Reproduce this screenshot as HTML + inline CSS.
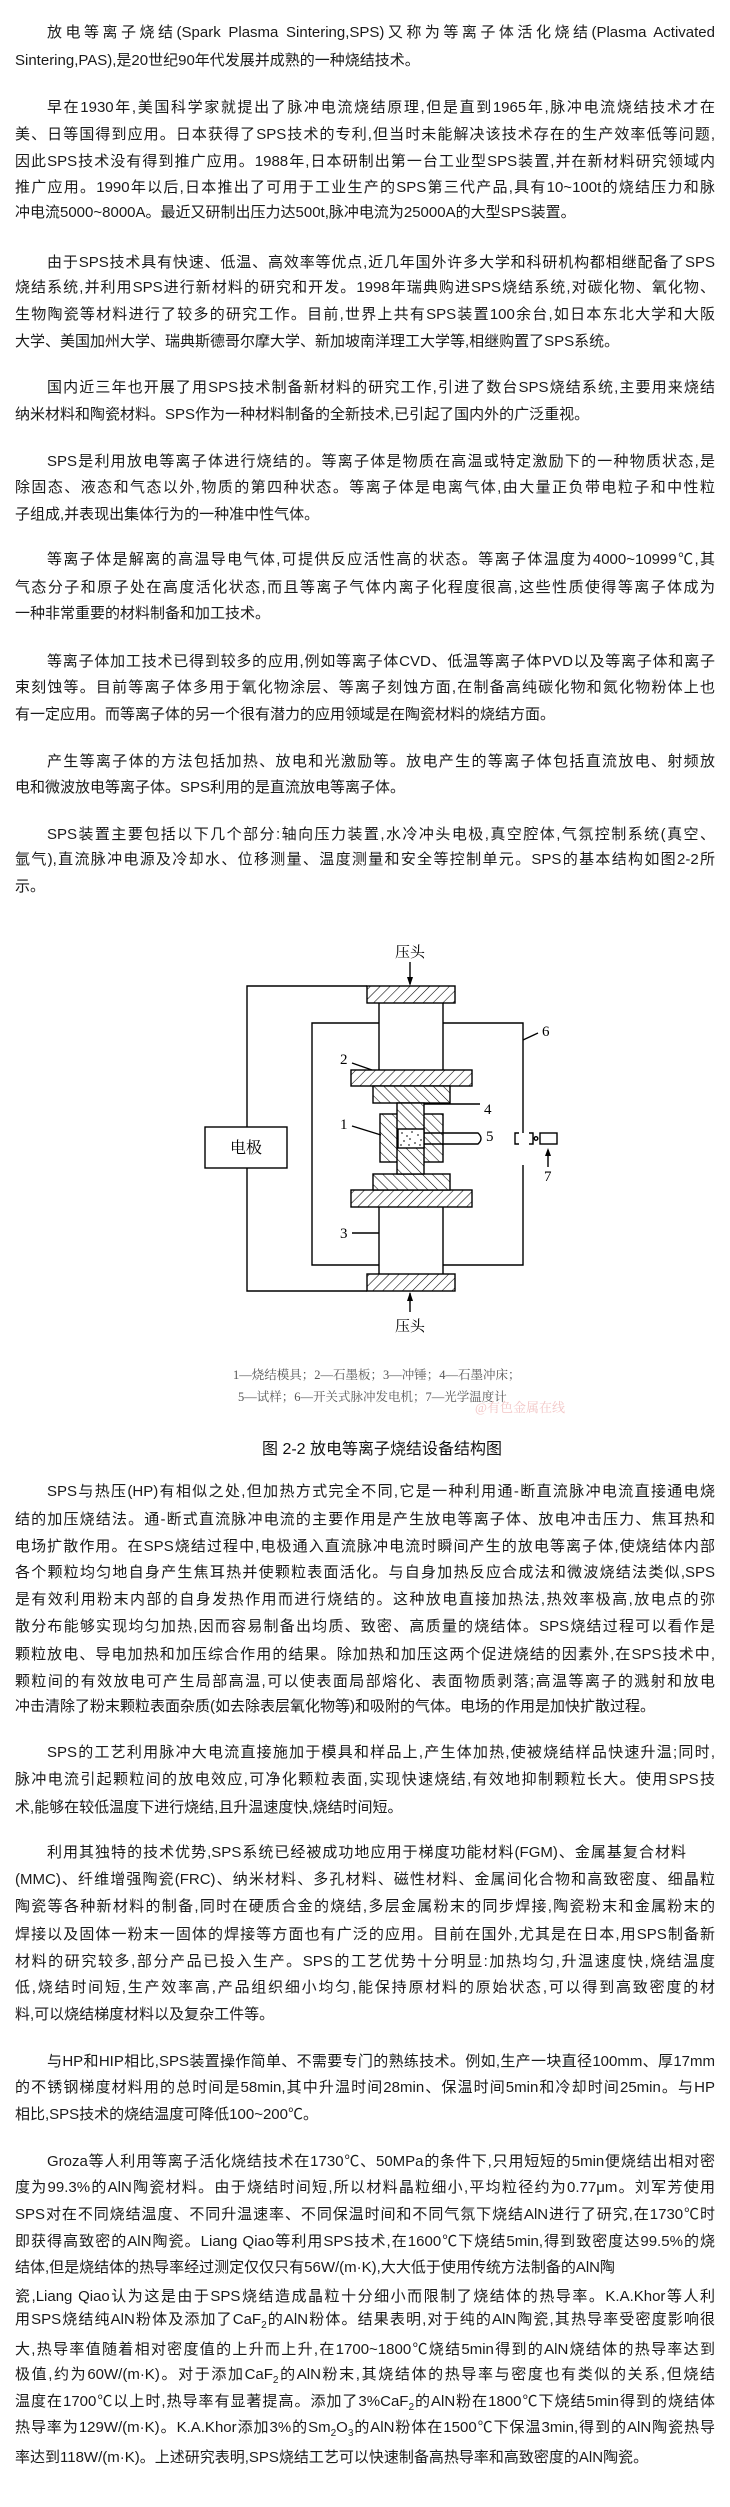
<!DOCTYPE html>
<html><head><meta charset="utf-8">
<style>
html,body{margin:0;padding:0;background:#fff;}
body{width:730px;height:2507px;position:relative;overflow:hidden;font-family:"Liberation Sans","Noto Sans CJK SC",sans-serif;color:#1a1a1a;font-size:15px;}
.l{position:absolute;left:15px;width:700px;height:26px;line-height:26px;text-align:justify;text-align-last:justify;overflow:hidden;}
.i{padding-left:32px;width:668px;}
.e{text-align-last:left;}
sub{font-size:10px;line-height:0;vertical-align:-4px;}
.cap{position:absolute;font-family:"Liberation Serif","Noto Serif CJK SC",serif;color:#555;font-size:12.5px;white-space:nowrap;}
</style></head><body>

<div class="l i" style="top:20px">放电等离子烧结(Spark Plasma Sintering,SPS)又称为等离子体活化烧结(Plasma Activated</div>
<div class="l e" style="top:48px">Sintering,PAS),是20世纪90年代发展并成熟的一种烧结技术。</div>

<div class="l i" style="top:95px">早在1930年,美国科学家就提出了脉冲电流烧结原理,但是直到1965年,脉冲电流烧结技术才在</div>
<div class="l" style="top:122px">美、日等国得到应用。日本获得了SPS技术的专利,但当时未能解决该技术存在的生产效率低等问题,</div>
<div class="l" style="top:149px">因此SPS技术没有得到推广应用。1988年,日本研制出第一台工业型SPS装置,并在新材料研究领域内</div>
<div class="l" style="top:175px">推广应用。1990年以后,日本推出了可用于工业生产的SPS第三代产品,具有10~100t的烧结压力和脉</div>
<div class="l e" style="top:200px">冲电流5000~8000A。最近又研制出压力达500t,脉冲电流为25000A的大型SPS装置。</div>

<div class="l i" style="top:250px">由于SPS技术具有快速、低温、高效率等优点,近几年国外许多大学和科研机构都相继配备了SPS</div>
<div class="l" style="top:275px">烧结系统,并利用SPS进行新材料的研究和开发。1998年瑞典购进SPS烧结系统,对碳化物、氧化物、</div>
<div class="l" style="top:302px">生物陶瓷等材料进行了较多的研究工作。目前,世界上共有SPS装置100余台,如日本东北大学和大阪</div>
<div class="l e" style="top:329px">大学、美国加州大学、瑞典斯德哥尔摩大学、新加坡南洋理工大学等,相继购置了SPS系统。</div>

<div class="l i" style="top:375px">国内近三年也开展了用SPS技术制备新材料的研究工作,引进了数台SPS烧结系统,主要用来烧结</div>
<div class="l e" style="top:402px">纳米材料和陶瓷材料。SPS作为一种材料制备的全新技术,已引起了国内外的广泛重视。</div>

<div class="l i" style="top:449px">SPS是利用放电等离子体进行烧结的。等离子体是物质在高温或特定激励下的一种物质状态,是</div>
<div class="l" style="top:475px">除固态、液态和气态以外,物质的第四种状态。等离子体是电离气体,由大量正负带电粒子和中性粒</div>
<div class="l e" style="top:502px">子组成,并表现出集体行为的一种准中性气体。</div>

<div class="l i" style="top:547px">等离子体是解离的高温导电气体,可提供反应活性高的状态。等离子体温度为4000~10999℃,其</div>
<div class="l" style="top:575px">气态分子和原子处在高度活化状态,而且等离子气体内离子化程度很高,这些性质使得等离子体成为</div>
<div class="l e" style="top:601px">一种非常重要的材料制备和加工技术。</div>

<div class="l i" style="top:649px">等离子体加工技术已得到较多的应用,例如等离子体CVD、低温等离子体PVD以及等离子体和离子</div>
<div class="l" style="top:675px">束刻蚀等。目前等离子体多用于氧化物涂层、等离子刻蚀方面,在制备高纯碳化物和氮化物粉体上也</div>
<div class="l e" style="top:702px">有一定应用。而等离子体的另一个很有潜力的应用领域是在陶瓷材料的烧结方面。</div>

<div class="l i" style="top:749px">产生等离子体的方法包括加热、放电和光激励等。放电产生的等离子体包括直流放电、射频放</div>
<div class="l e" style="top:775px">电和微波放电等离子体。SPS利用的是直流放电等离子体。</div>

<div class="l i" style="top:822px">SPS装置主要包括以下几个部分:轴向压力装置,水冷冲头电极,真空腔体,气氛控制系统(真空、</div>
<div class="l" style="top:847px">氩气),直流脉冲电源及冷却水、位移测量、温度测量和安全等控制单元。SPS的基本结构如图2-2所</div>
<div class="l e" style="top:874px">示。</div>

<svg style="position:absolute;left:0;top:930px" width="730" height="500" viewBox="0 930 730 500">
<defs>
<pattern id="h1" patternUnits="userSpaceOnUse" width="7" height="7" patternTransform="rotate(45)">
<rect width="7" height="7" fill="#fff"/><line x1="0" y1="0" x2="0" y2="7" stroke="#000" stroke-width="1.1"/></pattern>
<pattern id="h2" patternUnits="userSpaceOnUse" width="7" height="7" patternTransform="rotate(-45)">
<rect width="7" height="7" fill="#fff"/><line x1="0" y1="0" x2="0" y2="7" stroke="#000" stroke-width="1.1"/></pattern>
</defs>
<g stroke="#000" stroke-width="1.4" fill="none">
<!-- circuit wire -->
<polyline points="367,986 247,986 247,1127"/>
<polyline points="247,1168 247,1291 367,1291"/>
<rect x="205" y="1127" width="82" height="41" fill="#fff"/>
<!-- chamber -->
<polyline points="379,1023 312,1023 312,1265 379,1265"/>
<polyline points="443,1023 523,1023 523,1133"/>
<polyline points="523,1165 523,1265 443,1265"/>
<!-- columns -->
<line x1="379" y1="1003" x2="379" y2="1070"/><line x1="443" y1="1003" x2="443" y2="1070"/>
<line x1="379" y1="1207" x2="379" y2="1274"/><line x1="443" y1="1207" x2="443" y2="1274"/>
<!-- plates -->
<rect x="367" y="986" width="88" height="17" fill="url(#h1)"/>
<rect x="367" y="1274" width="88" height="17" fill="url(#h1)"/>
<rect x="351" y="1070" width="121" height="16" fill="url(#h1)"/>
<rect x="351" y="1190" width="121" height="17" fill="url(#h1)"/>
<rect x="373" y="1086" width="77" height="17" fill="url(#h2)"/>
<rect x="373" y="1174" width="77" height="16" fill="url(#h2)"/>
<!-- die -->
<rect x="380" y="1114" width="63" height="48" fill="url(#h2)"/>
<rect x="397" y="1103" width="27" height="71" fill="url(#h2)"/>
<rect x="398" y="1129" width="26" height="19" fill="#fff"/>
<!-- thermocouple -->
<path d="M424,1133 H478 Q484,1138.5 478,1144 H424"/>
<!-- pyrometer -->
<path d="M519,1133 H515 V1144 H519"/>
<path d="M529,1133 H533 V1144 H529"/>
<circle cx="536" cy="1138.5" r="1.8"/>
<rect x="540" y="1133" width="17" height="11"/>
<line x1="548" y1="1150" x2="548" y2="1167"/>
<!-- arrows -->
<line x1="410" y1="962" x2="410" y2="984"/>
<line x1="410" y1="1293" x2="410" y2="1312"/>
<!-- leaders -->
<line x1="352" y1="1063" x2="372" y2="1070"/>
<line x1="352" y1="1126" x2="381" y2="1135"/>
<line x1="352" y1="1233" x2="379" y2="1233"/>
<line x1="424" y1="1104" x2="480" y2="1104"/>
<line x1="523" y1="1040" x2="538" y2="1033"/>
</g>
<g fill="#000">
<polygon points="410,986 407,977 413,977"/>
<polygon points="410,1292 407,1301 413,1301"/>
<polygon points="548,1148 545,1156 551,1156"/>
</g>
<g fill="#333">
<circle cx="402" cy="1133" r=".9"/><circle cx="407" cy="1136" r=".9"/><circle cx="412" cy="1132" r=".9"/><circle cx="418" cy="1135" r=".9"/><circle cx="421" cy="1140" r=".9"/>
<circle cx="404" cy="1141" r=".9"/><circle cx="410" cy="1139" r=".9"/><circle cx="415" cy="1143" r=".9"/><circle cx="401" cy="1145" r=".9"/><circle cx="420" cy="1145" r=".9"/><circle cx="409" cy="1145" r=".9"/>
</g>
<g font-family="Liberation Serif,Noto Serif CJK SC,serif" font-size="15" fill="#000">
<text x="395" y="957">压头</text>
<text x="395" y="1331">压头</text>
<text x="230" y="1153" font-size="16">电极</text>
<text x="340" y="1064">2</text>
<text x="340" y="1129">1</text>
<text x="340" y="1238">3</text>
<text x="484" y="1114">4</text>
<text x="486" y="1141">5</text>
<text x="542" y="1036">6</text>
<text x="544" y="1181">7</text>
</g>
</svg>

<div class="cap" style="left:233px;top:1365px">1—烧结模具；2—石墨板；3—冲锤；4—石墨冲床；</div>
<div class="cap" style="left:238px;top:1387px">5—试样；6—开关式脉冲发电机；7—光学温度计</div>
<div class="cap" style="left:475px;top:1397px;color:#f2c6c6;font-size:13px">@有色金属在线</div>
<div style="position:absolute;left:262px;top:1435px;font-size:16px;font-family:'Liberation Sans','Noto Sans CJK SC',sans-serif;white-space:nowrap;color:#111">图 2-2 放电等离子烧结设备结构图</div>

<div class="l i" style="top:1479px">SPS与热压(HP)有相似之处,但加热方式完全不同,它是一种利用通-断直流脉冲电流直接通电烧</div>
<div class="l" style="top:1507px">结的加压烧结法。通-断式直流脉冲电流的主要作用是产生放电等离子体、放电冲击压力、焦耳热和</div>
<div class="l" style="top:1534px">电场扩散作用。在SPS烧结过程中,电极通入直流脉冲电流时瞬间产生的放电等离子体,使烧结体内部</div>
<div class="l" style="top:1560px">各个颗粒均匀地自身产生焦耳热并使颗粒表面活化。与自身加热反应合成法和微波烧结法类似,SPS</div>
<div class="l" style="top:1587px">是有效利用粉末内部的自身发热作用而进行烧结的。这种放电直接加热法,热效率极高,放电点的弥</div>
<div class="l" style="top:1614px">散分布能够实现均匀加热,因而容易制备出均质、致密、高质量的烧结体。SPS烧结过程可以看作是</div>
<div class="l" style="top:1642px">颗粒放电、导电加热和加压综合作用的结果。除加热和加压这两个促进烧结的因素外,在SPS技术中,</div>
<div class="l" style="top:1669px">颗粒间的有效放电可产生局部高温,可以使表面局部熔化、表面物质剥落;高温等离子的溅射和放电</div>
<div class="l e" style="top:1694px">冲击清除了粉末颗粒表面杂质(如去除表层氧化物等)和吸附的气体。电场的作用是加快扩散过程。</div>

<div class="l i" style="top:1740px">SPS的工艺利用脉冲大电流直接施加于模具和样品上,产生体加热,使被烧结样品快速升温;同时,</div>
<div class="l" style="top:1767px">脉冲电流引起颗粒间的放电效应,可净化颗粒表面,实现快速烧结,有效地抑制颗粒长大。使用SPS技</div>
<div class="l e" style="top:1795px">术,能够在较低温度下进行烧结,且升温速度快,烧结时间短。</div>

<div class="l i" style="top:1840px;width:639px">利用其独特的技术优势,SPS系统已经被成功地应用于梯度功能材料(FGM)、金属基复合材料</div>
<div class="l" style="top:1867px">(MMC)、纤维增强陶瓷(FRC)、纳米材料、多孔材料、磁性材料、金属间化合物和高致密度、细晶粒</div>
<div class="l" style="top:1894px">陶瓷等各种新材料的制备,同时在硬质合金的烧结,多层金属粉末的同步焊接,陶瓷粉末和金属粉末的</div>
<div class="l" style="top:1922px">焊接以及固体一粉末一固体的焊接等方面也有广泛的应用。目前在国外,尤其是在日本,用SPS制备新</div>
<div class="l" style="top:1949px">材料的研究较多,部分产品已投入生产。SPS的工艺优势十分明显:加热均匀,升温速度快,烧结温度</div>
<div class="l" style="top:1975px">低,烧结时间短,生产效率高,产品组织细小均匀,能保持原材料的原始状态,可以得到高致密度的材</div>
<div class="l e" style="top:2002px">料,可以烧结梯度材料以及复杂工件等。</div>

<div class="l i" style="top:2049px">与HP和HIP相比,SPS装置操作简单、不需要专门的熟练技术。例如,生产一块直径100mm、厚17mm</div>
<div class="l" style="top:2075px">的不锈钢梯度材料用的总时间是58min,其中升温时间28min、保温时间5min和冷却时间25min。与HP</div>
<div class="l e" style="top:2102px">相比,SPS技术的烧结温度可降低100~200℃。</div>

<div class="l i" style="top:2149px">Groza等人利用等离子活化烧结技术在1730℃、50MPa的条件下,只用短短的5min便烧结出相对密</div>
<div class="l" style="top:2175px">度为99.3%的AlN陶瓷材料。由于烧结时间短,所以材料晶粒细小,平均粒径约为0.77μm。刘军芳使用</div>
<div class="l" style="top:2202px">SPS对在不同烧结温度、不同升温速率、不同保温时间和不同气氛下烧结AlN进行了研究,在1730℃时</div>
<div class="l" style="top:2229px">即获得高致密的AlN陶瓷。Liang Qiao等利用SPS技术,在1600℃下烧结5min,得到致密度达99.5%的烧</div>
<div class="l e" style="top:2255px">结体,但是烧结体的热导率经过测定仅仅只有56W/(m·K),大大低于使用传统方法制备的AlN陶</div>
<div class="l" style="top:2284px">瓷,Liang Qiao认为这是由于SPS烧结造成晶粒十分细小而限制了烧结体的热导率。K.A.Khor等人利</div>
<div class="l" style="top:2307px">用SPS烧结纯AlN粉体及添加了CaF<sub>2</sub>的AlN粉体。结果表明,对于纯的AlN陶瓷,其热导率受密度影响很</div>
<div class="l" style="top:2337px">大,热导率值随着相对密度值的上升而上升,在1700~1800℃烧结5min得到的AlN烧结体的热导率达到</div>
<div class="l" style="top:2362px">极值,约为60W/(m·K)。对于添加CaF<sub>2</sub>的AlN粉末,其烧结体的热导率与密度也有类似的关系,但烧结</div>
<div class="l" style="top:2389px">温度在1700℃以上时,热导率有显著提高。添加了3%CaF<sub>2</sub>的AlN粉在1800℃下烧结5min得到的烧结体</div>
<div class="l" style="top:2415px">热导率为129W/(m·K)。K.A.Khor添加3%的Sm<sub>2</sub>O<sub>3</sub>的AlN粉体在1500℃下保温3min,得到的AlN陶瓷热导</div>
<div class="l e" style="top:2445px">率达到118W/(m·K)。上述研究表明,SPS烧结工艺可以快速制备高热导率和高致密度的AlN陶瓷。</div>

</body></html>
